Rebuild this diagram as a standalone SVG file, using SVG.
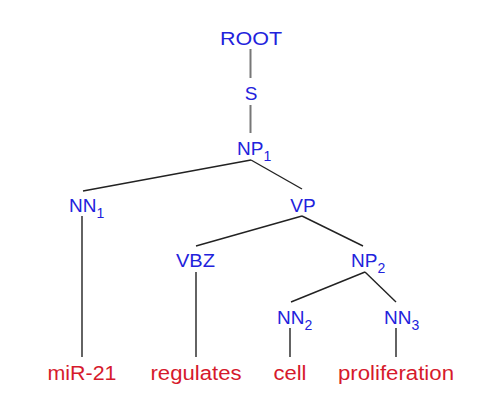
<svg xmlns="http://www.w3.org/2000/svg" width="490" height="408" viewBox="0 0 490 408">
<style>
.n{font-family:"Liberation Sans",Arial,sans-serif;font-size:19px;fill:#2222dc}
.w{font-family:"Liberation Sans",Arial,sans-serif;font-size:20px;fill:#d61a2c;text-anchor:middle}
.sub{font-size:14px}
.e{stroke:#222;stroke-width:1.4;fill:none}
.g{stroke:#777;stroke-width:2;fill:none}
</style>
<rect width="490" height="408" fill="#fff"/>
<g id="connectors">
<line class="g" x1="250.5" y1="49" x2="250.5" y2="78"/>
<line class="g" x1="250.5" y1="105" x2="250.5" y2="133"/>
<line class="e" x1="251" y1="160" x2="83" y2="191"/>
<line class="e" x1="251" y1="160" x2="302" y2="189"/>
<line class="e" x1="302" y1="216" x2="196" y2="246"/>
<line class="e" x1="302" y1="216" x2="363" y2="246"/>
<line class="e" x1="365" y1="272" x2="291" y2="302"/>
<line class="e" x1="365" y1="272" x2="396" y2="302"/>
<line class="e" x1="82" y1="216" x2="82" y2="357"/>
<line class="e" x1="196" y1="272" x2="196" y2="357"/>
<line class="e" x1="290" y1="328" x2="290" y2="357"/>
<line class="e" x1="396" y1="328" x2="396" y2="357"/>
</g>
<g id="root"><text class="n" x="220" y="45" textLength="62" lengthAdjust="spacingAndGlyphs">ROOT</text></g>
<g id="s"><text class="n" x="251" y="100" text-anchor="middle">S</text></g>
<g id="np1"><text class="n" x="237" y="155">NP<tspan class="sub" dy="6">1</tspan></text></g>
<g id="nn1"><text class="n" x="69" y="212">NN<tspan class="sub" dy="6">1</tspan></text></g>
<g id="vp"><text class="n" x="303" y="212" text-anchor="middle">VP</text></g>
<g id="vbz"><text class="n" x="176" y="267" textLength="39" lengthAdjust="spacingAndGlyphs">VBZ</text></g>
<g id="np2"><text class="n" x="351" y="267">NP<tspan class="sub" dy="6">2</tspan></text></g>
<g id="nn2"><text class="n" x="277" y="324">NN<tspan class="sub" dy="6">2</tspan></text></g>
<g id="nn3"><text class="n" x="384" y="324">NN<tspan class="sub" dy="6">3</tspan></text></g>
<g id="w1"><text class="w" x="82" y="380" textLength="69" lengthAdjust="spacingAndGlyphs">miR-21</text></g>
<g id="w2"><text class="w" x="196" y="380" textLength="91" lengthAdjust="spacingAndGlyphs">regulates</text></g>
<g id="w3"><text class="w" x="290" y="380" textLength="33" lengthAdjust="spacingAndGlyphs">cell</text></g>
<g id="w4"><text class="w" x="396" y="380" textLength="116" lengthAdjust="spacingAndGlyphs">proliferation</text></g>
</svg>
